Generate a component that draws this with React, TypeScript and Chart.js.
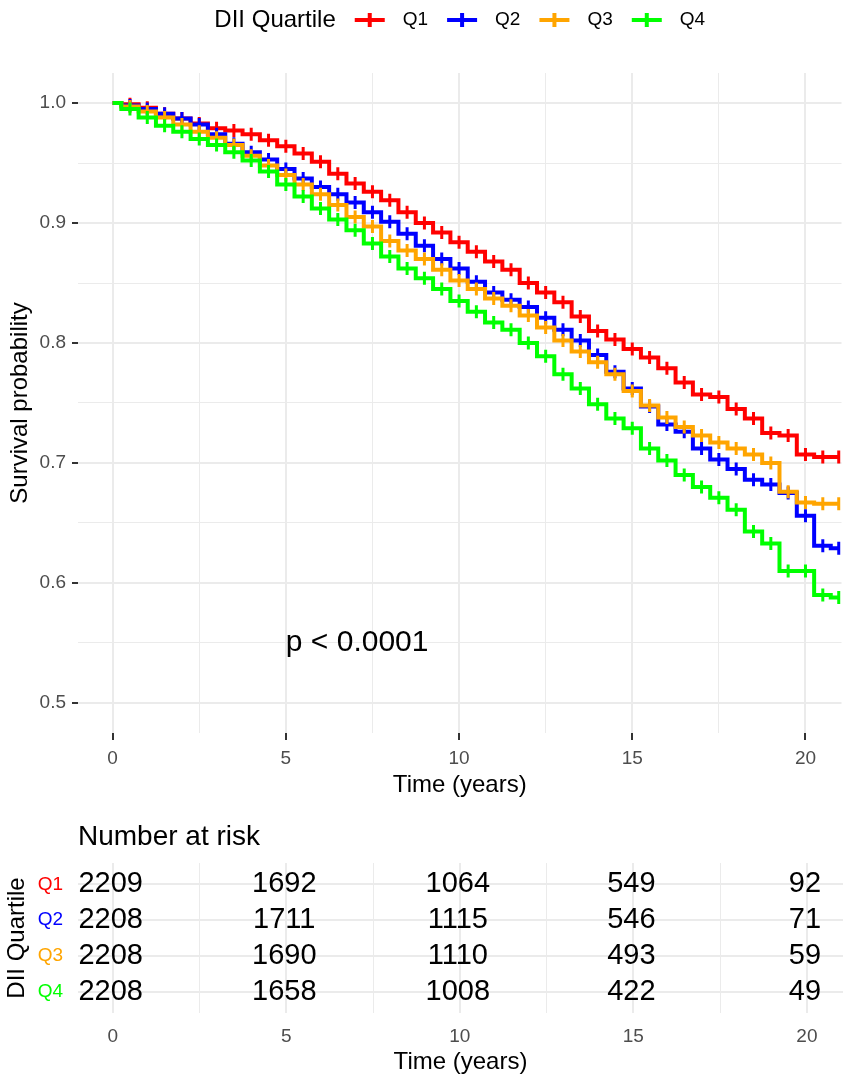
import { useEffect, useRef } from "react";
import { Chart, registerables, Plugin } from "chart.js";

Chart.register(...registerables);

const FONT = '"Liberation Sans", Arial, Helvetica, sans-serif';

const legendTitle = "DII Quartile";
const groups = ["Q1", "Q2", "Q3", "Q4"];
const groupColors = ["#FF0000", "#0000FF", "#FFA500", "#00FF00"];

// follow-up time (years) at which the curves were read
const times = [
  0, 0.5, 1, 1.5, 2, 2.5, 3, 3.5, 4, 4.5, 5, 5.5, 6, 6.5, 7, 7.5, 8, 8.5, 9, 9.5, 10,
  10.5, 11, 11.5, 12, 12.5, 13, 13.5, 14, 14.5, 15, 15.5, 16, 16.5, 17, 17.5, 18, 18.5,
  19, 19.5, 20, 20.5, 20.96,
];

const survQ1 = [
  1.0, 0.999, 0.996, 0.991, 0.987, 0.983, 0.979, 0.977, 0.974, 0.969, 0.964, 0.958, 0.951,
  0.941, 0.933, 0.926, 0.919, 0.909, 0.9, 0.892, 0.884, 0.876, 0.868, 0.861, 0.85, 0.842,
  0.834, 0.822, 0.81, 0.803, 0.795, 0.788, 0.779, 0.767, 0.757, 0.755, 0.745, 0.737, 0.725,
  0.723, 0.707, 0.705, 0.705,
];
const survQ2 = [
  1.0, 0.998, 0.995, 0.991, 0.987, 0.982, 0.974, 0.966, 0.959, 0.953, 0.945, 0.937, 0.93,
  0.924, 0.917, 0.909, 0.901, 0.891, 0.881, 0.87, 0.862, 0.851, 0.842, 0.836, 0.83, 0.821,
  0.811, 0.802, 0.79, 0.776, 0.762, 0.747, 0.732, 0.726, 0.712, 0.703, 0.695, 0.686, 0.682,
  0.675, 0.656, 0.631, 0.629,
];
const survQ3 = [
  1.0, 0.997, 0.993, 0.988, 0.982, 0.976, 0.971, 0.965, 0.956, 0.948, 0.94, 0.932, 0.924,
  0.915, 0.905, 0.897, 0.885, 0.877, 0.87, 0.861, 0.852, 0.845, 0.837, 0.831, 0.823, 0.813,
  0.802, 0.793, 0.784, 0.774, 0.76, 0.748, 0.738, 0.73, 0.723, 0.717, 0.712, 0.707, 0.7,
  0.676, 0.667, 0.666, 0.666,
];
const survQ4 = [
  1.0, 0.995, 0.988, 0.981, 0.976, 0.97, 0.965, 0.959, 0.952, 0.943, 0.932, 0.922, 0.912,
  0.903, 0.894, 0.883, 0.872, 0.862, 0.854, 0.845, 0.835, 0.826, 0.817, 0.811, 0.8, 0.789,
  0.774, 0.762, 0.749, 0.737, 0.729, 0.712, 0.702, 0.69, 0.68, 0.671, 0.661, 0.643, 0.633,
  0.61, 0.61, 0.59, 0.588,
];
const survival = [survQ1, survQ2, survQ3, survQ4];

const riskTimes = [0, 5, 10, 15, 20];
const riskQ1 = [2209, 1692, 1064, 549, 92];
const riskQ2 = [2208, 1711, 1115, 546, 71];
const riskQ3 = [2208, 1690, 1110, 493, 59];
const riskQ4 = [2208, 1658, 1008, 422, 49];
const atRisk = [riskQ1, riskQ2, riskQ3, riskQ4];

const xGrid = [0, 2.5, 5, 7.5, 10, 12.5, 15, 17.5, 20];
const yGrid = [0.5, 0.55, 0.6, 0.65, 0.7, 0.75, 0.8, 0.85, 0.9, 0.95, 1.0];
const pValueText = "p < 0.0001";
const pValueAt = { x: 5, y: 0.55 };

const X_MIN = -1.0;
const X_MAX = 21.04;
const GRID = "#ebebeb";
const AXIS_TEXT = "#4d4d4d";

const isMajorX = (v: number) => Math.abs(v / 5 - Math.round(v / 5)) < 1e-6;
const isMajorY = (v: number) => Math.abs(v * 10 - Math.round(v * 10)) < 1e-6;

const legendPlugin: Plugin = {
  id: "topLegend",
  afterDraw(chart) {
    const { ctx, chartArea } = chart;
    const titleFont = `24px ${FONT}`;
    const labelFont = `19px ${FONT}`;
    const keyW = 30;
    const keyGap = 18;
    const itemGap = 19;
    ctx.save();
    ctx.textBaseline = "middle";
    ctx.textAlign = "left";
    ctx.font = titleFont;
    const titleW = ctx.measureText(legendTitle).width;
    ctx.font = labelFont;
    const labelW = groups.map((g) => ctx.measureText(g).width);
    const total = titleW + labelW.reduce((s, w) => s + itemGap + keyW + keyGap + w, 0);
    let x = (chartArea.left + chartArea.right) / 2 - total / 2;
    const y = 20;
    ctx.fillStyle = "#000";
    ctx.font = titleFont;
    ctx.fillText(legendTitle, x, y);
    x += titleW;
    ctx.font = labelFont;
    groups.forEach((g, i) => {
      x += itemGap;
      ctx.strokeStyle = groupColors[i];
      ctx.lineWidth = 4;
      ctx.beginPath();
      ctx.moveTo(x, y);
      ctx.lineTo(x + keyW, y);
      ctx.moveTo(x + keyW / 2, y - 7);
      ctx.lineTo(x + keyW / 2, y + 7);
      ctx.stroke();
      x += keyW + keyGap;
      ctx.fillStyle = "#000";
      ctx.fillText(g, x, y);
      x += labelW[i];
    });
    ctx.restore();
  },
};

const pValuePlugin: Plugin = {
  id: "pValue",
  afterDatasetsDraw(chart) {
    const { ctx, scales } = chart;
    ctx.save();
    ctx.font = `30px ${FONT}`;
    ctx.fillStyle = "#000";
    ctx.textAlign = "left";
    ctx.textBaseline = "middle";
    ctx.fillText(pValueText, scales.x.getPixelForValue(pValueAt.x), scales.y.getPixelForValue(pValueAt.y));
    ctx.restore();
  },
};

const riskTextPlugin: Plugin = {
  id: "riskText",
  afterDatasetsDraw(chart) {
    const { ctx, scales, chartArea } = chart;
    ctx.save();
    ctx.fillStyle = "#000";
    ctx.textBaseline = "middle";
    ctx.font = `28px ${FONT}`;
    ctx.textAlign = "left";
    ctx.fillText("Number at risk", chartArea.left, 27);
    ctx.font = `29px ${FONT}`;
    ctx.textAlign = "center";
    atRisk.forEach((row, i) => {
      row.forEach((n, j) => {
        ctx.fillText(String(n), scales.x.getPixelForValue(riskTimes[j]) - 2, scales.y.getPixelForValue(i + 1));
      });
    });
    ctx.restore();
  },
};

function SurvivalPlot() {
  const canvasRef = useRef<HTMLCanvasElement>(null);

  useEffect(() => {
    if (!canvasRef.current) return;

    const chart = new Chart(canvasRef.current, {
      type: "line",
      data: {
        datasets: groups.map((g, i) => ({
          label: g,
          data: times.map((t, k) => ({ x: t, y: survival[i][k] })),
          borderColor: groupColors[i],
          backgroundColor: groupColors[i],
          borderWidth: 4,
          stepped: "middle" as const,
          pointStyle: "line" as const,
          pointRotation: 90,
          pointRadius: (c: any) => (c.dataIndex === 0 ? 0 : 6.5),
          pointBorderWidth: 3,
          pointBorderColor: groupColors[i],
          order: groups.length - i,
        })),
      },
      options: {
        animation: false,
        responsive: true,
        maintainAspectRatio: false,
        events: [],
        layout: { padding: { top: 73, right: 8, left: 0, bottom: 0 } },
        plugins: { legend: { display: false }, tooltip: { enabled: false } },
        scales: {
          x: {
            type: "linear",
            min: X_MIN,
            max: X_MAX,
            afterBuildTicks: (s) => {
              s.ticks = xGrid.map((v) => ({ value: v }));
            },
            afterFit: (s) => {
              s.height = 77;
            },
            border: { display: false },
            grid: {
              color: GRID,
              lineWidth: (c: any) => (isMajorX(c.tick.value) ? 2 : 1),
              drawTicks: true,
              tickLength: 7,
              tickWidth: 2,
              tickColor: (c: any) => (isMajorX(c.tick.value) ? "#333333" : "rgba(0,0,0,0)"),
            },
            ticks: {
              autoSkip: false,
              maxRotation: 0,
              padding: 7,
              color: AXIS_TEXT,
              font: { family: FONT, size: 19 },
              callback: (v) => (isMajorX(Number(v)) ? String(v) : ""),
            },
            title: {
              display: true,
              text: "Time (years)",
              color: "#000",
              font: { family: FONT, size: 24 },
              padding: { top: 0, bottom: 10.6 },
            },
          },
          y: {
            type: "linear",
            min: 0.475,
            max: 1.025,
            afterBuildTicks: (s) => {
              s.ticks = yGrid.map((v) => ({ value: v }));
            },
            afterFit: (s) => {
              s.width = 78;
            },
            border: { display: false },
            grid: {
              color: GRID,
              lineWidth: (c: any) => (isMajorY(c.tick.value) ? 2 : 1),
              drawTicks: true,
              tickLength: 6,
              tickWidth: 2,
              tickColor: (c: any) => (isMajorY(c.tick.value) ? "#333333" : "rgba(0,0,0,0)"),
            },
            ticks: {
              autoSkip: false,
              padding: 6,
              color: AXIS_TEXT,
              font: { family: FONT, size: 19 },
              callback: (v) => (isMajorY(Number(v)) ? Number(v).toFixed(1) : ""),
            },
            title: {
              display: true,
              text: "Survival probability",
              color: "#000",
              font: { family: FONT, size: 24 },
              padding: { top: 6, bottom: 0 },
            },
          },
        },
      },
      plugins: [legendPlugin, pValuePlugin],
    });

    return () => chart.destroy();
  }, []);

  return (
    <div style={{ position: "relative", width: 851, height: 810 }}>
      <canvas ref={canvasRef}></canvas>
    </div>
  );
}

function RiskTable() {
  const canvasRef = useRef<HTMLCanvasElement>(null);

  useEffect(() => {
    if (!canvasRef.current) return;

    const chart = new Chart(canvasRef.current, {
      type: "scatter",
      data: {
        datasets: groups.map((g, i) => ({
          label: g,
          data: riskTimes.map((t) => ({ x: t, y: i + 1 })),
          pointRadius: 0,
        })),
      },
      options: {
        animation: false,
        responsive: true,
        maintainAspectRatio: false,
        events: [],
        layout: { padding: { top: 53, right: 8, left: 0, bottom: 0 } },
        plugins: { legend: { display: false }, tooltip: { enabled: false } },
        scales: {
          x: {
            type: "linear",
            min: X_MIN,
            max: X_MAX,
            afterBuildTicks: (s) => {
              s.ticks = xGrid.map((v) => ({ value: v }));
            },
            afterFit: (s) => {
              s.height = 72;
            },
            border: { display: false },
            grid: {
              color: GRID,
              lineWidth: (c: any) => (isMajorX(c.tick.value) ? 2 : 1),
              drawTicks: false,
            },
            ticks: {
              autoSkip: false,
              maxRotation: 0,
              padding: 12,
              color: AXIS_TEXT,
              font: { family: FONT, size: 19 },
              callback: (v) => (isMajorX(Number(v)) ? String(v) : ""),
            },
            title: {
              display: true,
              text: "Time (years)",
              color: "#000",
              font: { family: FONT, size: 24 },
              padding: { top: 0, bottom: 8.6 },
            },
          },
          y: {
            type: "linear",
            reverse: true,
            min: 0.4,
            max: 4.6,
            afterBuildTicks: (s) => {
              s.ticks = groups.map((_, i) => ({ value: i + 1 }));
            },
            afterFit: (s) => {
              s.width = 78;
            },
            border: { display: false },
            grid: { color: GRID, lineWidth: 2, drawTicks: false },
            ticks: {
              autoSkip: false,
              padding: 15,
              font: { family: FONT, size: 19 },
              color: (c: any) => groupColors[Math.round(c.tick.value) - 1] || "#000",
              callback: (v) => groups[Math.round(Number(v)) - 1] ?? "",
            },
            title: {
              display: true,
              text: legendTitle,
              color: "#000",
              font: { family: FONT, size: 24 },
              padding: { top: 2.6, bottom: 0 },
            },
          },
        },
      },
      plugins: [riskTextPlugin],
    });

    return () => chart.destroy();
  }, []);

  return (
    <div style={{ position: "relative", width: 851, height: 275 }}>
      <canvas ref={canvasRef}></canvas>
    </div>
  );
}

export default function App() {
  return (
    <div
      style={{
        position: "absolute",
        left: 0,
        top: 0,
        width: 851,
        height: 1085,
        background: "#ffffff",
        fontFamily: FONT,
      }}
    >
      <SurvivalPlot />
      <RiskTable />
    </div>
  );
}
